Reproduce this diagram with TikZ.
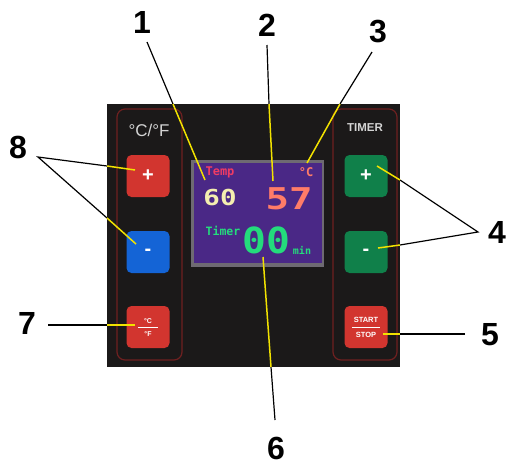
\documentclass[tikz,border=0pt]{standalone}
\usepackage{fontspec}
\usepackage{graphicx}
\setmainfont{Liberation Sans}
\newfontfamily\lcdfont{DejaVu Sans Mono}
\definecolor{panelbg}{HTML}{1B1919}
\definecolor{stripline}{HTML}{6E2020}
\definecolor{btnred}{HTML}{D2352F}
\definecolor{btnblue}{HTML}{1464D6}
\definecolor{btngreen}{HTML}{10804A}
\definecolor{scrframe}{HTML}{6E6A72}
\definecolor{scrpurple}{HTML}{4A2886}
\definecolor{leadyellow}{HTML}{F2E200}
\definecolor{lcdpink}{HTML}{F03C64}
\definecolor{lcdsalmon}{HTML}{FF7C68}
\definecolor{lcdcream}{HTML}{F4EEB0}
\definecolor{lcdgreen}{HTML}{24DC7C}
\definecolor{paneltext}{HTML}{D4D4D4}
\tikzset{
  callout/.style={font=\fontsize{32}{32}\selectfont\bfseries, inner sep=0pt},
  strip/.style={draw=stripline, line width=1.2pt, rounded corners=8pt},
  key/.style={minimum width=43pt, minimum height=42pt, rounded corners=5pt, inner sep=0pt, text=white},
  keysign/.style={font=\fontsize{20}{20}\selectfont\bfseries},
  outer/.style={draw=black, line width=1.2pt},
  inner/.style={draw=leadyellow, line width=1.5pt},
  lcd/.style={inner sep=0pt, font=\lcdfont\bfseries}
}
\begin{document}
\begin{tikzpicture}[x=1pt, y=-1pt]
\useasboundingbox (0,0) rectangle (508,467);

% control panel
\fill[panelbg] (107,104) rectangle (400,367);
\draw[strip] (117,109) rectangle (182,360);
\draw[strip] (333,109) rectangle (397,360);
\node[text=paneltext, font=\fontsize{17}{17}\selectfont] (unitlbl) at (149,130) {°C/°F};
\node[text=paneltext, font=\fontsize{11.5}{11.5}\selectfont\bfseries] (timerlbl) at (365,128) {TIMER};

% keys
\node[key, fill=btnred, keysign] (tplus) at (148,176) {+};
\node[key, fill=btnblue, keysign] (tminus) at (148,252) {-};
\node[key, fill=btnred] (unitkey) at (148,327) {};
\node[text=white, font=\fontsize{7}{7}\selectfont\bfseries, inner sep=0pt] (unitc) at (148,321) {°C};
\node[text=white, font=\fontsize{7}{7}\selectfont\bfseries, inner sep=0pt] (unitf) at (148,334) {°F};
\draw[white, line width=0.5pt] (138,327.5) -- (158,327.5);
\node[key, fill=btngreen, keysign] (mplus) at (366,176) {+};
\node[key, fill=btngreen, keysign] (mminus) at (366,252) {-};
\node[key, fill=btnred] (startkey) at (366,327) {};
\node[text=white, font=\fontsize{7.5}{7.5}\selectfont\bfseries, inner sep=0pt] (start) at (366,320) {START};
\node[text=white, font=\fontsize{7.5}{7.5}\selectfont\bfseries, inner sep=0pt] (stop) at (366,335) {STOP};
\draw[white, line width=0.5pt] (352,327.5) -- (380,327.5);

% display
\fill[scrframe] (191,160) rectangle (324,267);
\fill[scrpurple] (193.5,162.5) rectangle (321.5,263);
\node[lcd, text=lcdpink, font=\lcdfont\bfseries\fontsize{12}{12}\selectfont] (temp) at (220,172) {Temp};
\node[lcd, text=lcdsalmon, font=\lcdfont\bfseries\fontsize{12}{12}\selectfont] (unitsym) at (306,172) {°C};
\node[lcd, text=lcdcream, font=\lcdfont\bfseries\fontsize{22}{22}\selectfont] (setval) at (220,197) {\scalebox{1.25}[1]{60}};
\node[lcd, text=lcdsalmon, font=\lcdfont\bfseries\fontsize{30}{30}\selectfont] (actval) at (289,199) {\scalebox{1.3}[1]{57}};
\node[lcd, text=lcdgreen, font=\lcdfont\bfseries\fontsize{11.5}{11.5}\selectfont] (timer) at (223,231) {Timer};
\node[lcd, text=lcdgreen, font=\lcdfont\bfseries\fontsize{36}{36}\selectfont] (minutes) at (266,240) {\scalebox{1.1}[1]{00}};
\node[lcd, text=lcdgreen, font=\lcdfont\bfseries\fontsize{10}{10}\selectfont] (minunit) at (302,250) {min};

% callout numbers
\node[callout] (n1) at (142,22) {1};
\node[callout] (n2) at (267,25) {2};
\node[callout] (n3) at (378,32) {3};
\node[callout] (n4) at (497,232) {4};
\node[callout] (n5) at (490,335) {5};
\node[callout] (n6) at (276,448) {6};
\node[callout] (n7) at (27,323) {7};
\node[callout] (n8) at (18,147) {8};

% leader start, panel-edge and target points
\coordinate (s1) at (147,42);  \coordinate (e1) at (173,104); \coordinate (t1) at (205,180);
\coordinate (s2) at (267,45);  \coordinate (e2) at (269,104); \coordinate (t2) at (273,181);
\coordinate (s3) at (372,52);  \coordinate (e3) at (340,104); \coordinate (t3) at (307,163);
\coordinate (s4) at (478,232);
\coordinate (e4a) at (400,180); \coordinate (t4a) at (377,166);
\coordinate (e4b) at (400,245); \coordinate (t4b) at (378,248);
\coordinate (s5) at (465,334); \coordinate (e5) at (400,334); \coordinate (t5) at (383,334);
\coordinate (s6) at (275,420); \coordinate (e6) at (271,367); \coordinate (t6) at (263,257);
\coordinate (s7) at (48,325);  \coordinate (e7) at (107,325); \coordinate (t7) at (135,325);
\coordinate (s8) at (38,157);
\coordinate (e8a) at (107,166); \coordinate (t8a) at (135,170);
\coordinate (e8b) at (107,218); \coordinate (t8b) at (136,244);

% leaders: black outside the panel, yellow on it
\draw[outer] (s1) -- (e1);  \draw[inner] (e1) -- (t1);
\draw[outer] (s2) -- (e2);  \draw[inner] (e2) -- (t2);
\draw[outer] (s3) -- (e3);  \draw[inner] (e3) -- (t3);
\draw[outer] (e4a) -- (s4) -- (e4b);
\draw[inner] (e4a) -- (t4a);  \draw[inner] (e4b) -- (t4b);
\draw[outer] (s5) -- (e5);  \draw[inner] (e5) -- (t5);
\draw[outer] (s6) -- (e6);  \draw[inner] (e6) -- (t6);
\draw[outer] (s7) -- (e7);  \draw[inner] (e7) -- (t7);
\draw[outer] (e8a) -- (s8) -- (e8b);
\draw[inner] (e8a) -- (t8a);  \draw[inner] (e8b) -- (t8b);
\end{tikzpicture}
\end{document}
